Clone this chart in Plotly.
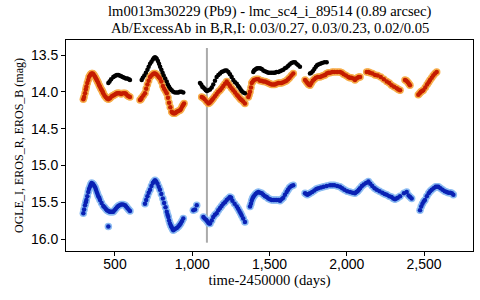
import plotly.graph_objects as go

# ---- data (time-2450000, magnitude) ----
ogle_i_t = [457, 465, 475, 489, 497, 505, 513, 521, 530, 540, 550, 560, 570, 580, 590, 597,
            673, 680, 690, 700, 710, 718, 727, 736, 745, 752, 759, 765, 770, 778, 785, 792, 800, 808, 815, 825, 835, 842, 850, 858, 867, 877, 888, 900, 910, 920, 930, 942,
            1050, 1058, 1065, 1072, 1080, 1088, 1095, 1105, 1115, 1126, 1136, 1147, 1158, 1169, 1180, 1190, 1201, 1212, 1223, 1234, 1244, 1255, 1266, 1277, 1288, 1297, 1305, 1313, 1320, 1330, 1341,
            1395, 1400, 1406, 1413, 1420, 1430, 1439, 1450, 1460, 1470, 1482, 1492, 1503, 1514, 1525, 1535, 1545, 1557, 1568, 1578, 1589, 1600, 1610, 1620, 1630, 1642, 1654, 1665, 1675, 1686, 1697,
            1762, 1771, 1780, 1790, 1800, 1808, 1816, 1828, 1840, 1855, 1870]
ogle_i_m = [13.88, 13.86, 13.83, 13.80, 13.79, 13.78, 13.77, 13.77, 13.78, 13.79, 13.80, 13.81, 13.82, 13.82, 13.83, 13.84,
            13.84, 13.81, 13.78, 13.74, 13.70, 13.66, 13.62, 13.59, 13.56, 13.54, 13.53, 13.54, 13.55, 13.58, 13.62, 13.66, 13.70, 13.74, 13.78, 13.82, 13.86, 13.90, 13.93, 13.96, 13.98, 14.00, 14.01, 14.01, 14.01, 14.00, 14.00, 14.01,
            13.88, 13.90, 13.93, 13.94, 13.96, 13.98, 13.99, 13.98, 13.97, 13.94, 13.90, 13.85, 13.80, 13.77, 13.75, 13.73, 13.72, 13.71, 13.71, 13.73, 13.76, 13.80, 13.84, 13.87, 13.89, 13.92, 13.94, 13.97, 13.99, 14.01, 14.02,
            13.73, 13.71, 13.70, 13.69, 13.68, 13.68, 13.68, 13.69, 13.71, 13.72, 13.73, 13.74, 13.74, 13.74, 13.74, 13.74, 13.73, 13.73, 13.72, 13.71, 13.70, 13.68, 13.67, 13.65, 13.63, 13.61, 13.60, 13.60, 13.62, 13.64, 13.66,
            13.75, 13.74, 13.72, 13.69, 13.66, 13.64, 13.63, 13.62, 13.61, 13.60, 13.60]

eros_r_t = [295, 300, 306, 311, 315, 321, 327, 332, 338, 343, 349, 355, 360, 366, 372, 377, 382, 387, 392, 398, 403, 409, 415, 420, 424, 432, 440, 448, 457, 464, 470, 480, 489, 497, 505, 513, 521, 530, 540, 552, 565, 572, 580, 588, 597,
            662, 668, 673, 684, 694, 702, 710, 718, 727, 736, 745, 752, 759, 767, 775, 783, 791, 800, 810, 818, 827, 835, 843, 850, 858, 867, 872, 877, 883, 888, 894, 900, 910, 921, 928, 935, 941, 947,
            1061, 1070, 1080, 1092, 1104, 1112, 1120, 1128, 1136, 1147, 1158, 1169, 1180, 1190, 1201, 1212, 1223, 1234, 1244, 1255, 1266, 1277, 1288, 1297, 1305, 1313, 1320, 1330, 1341,
            1363, 1368, 1374, 1380, 1385, 1392, 1400, 1414, 1428, 1439, 1450, 1460, 1471, 1482, 1492, 1503, 1514, 1525, 1535, 1545, 1557, 1568, 1578, 1589, 1600, 1610, 1620, 1630, 1642, 1654,
            1730, 1738, 1745, 1753, 1762, 1771, 1780, 1790, 1800, 1813, 1827, 1838, 1850, 1860, 1870, 1881, 1892, 1906, 1920, 1938, 1956, 1968, 1980, 1995, 2010, 2020, 2030, 2042, 2053, 2062, 2070, 2078, 2086,
            2129, 2140, 2150, 2166, 2183, 2200, 2220, 2240, 2259, 2275, 2290, 2306, 2323, 2334, 2345, 2377, 2386, 2395, 2402, 2409,
            2463, 2472, 2480, 2488, 2495, 2508, 2520, 2530, 2539, 2550, 2560, 2571, 2582]
eros_r_m = [14.10, 14.07, 14.02, 13.97, 13.93, 13.88, 13.84, 13.80, 13.78, 13.76, 13.75, 13.75, 13.76, 13.78, 13.80, 13.82, 13.84, 13.86, 13.88, 13.91, 13.93, 13.96, 13.98, 14.00, 14.02, 14.05, 14.07, 14.09, 14.10, 14.09, 14.08, 14.06, 14.05, 14.04, 14.03, 14.02, 14.02, 14.02, 14.03, 14.02, 14.02, 14.03, 14.05, 14.06, 14.07,
            14.11, 14.10, 14.08, 14.05, 14.02, 13.96, 13.90, 13.85, 13.80, 13.78, 13.76, 13.75, 13.75, 13.76, 13.78, 13.80, 13.82, 13.86, 13.92, 13.96, 13.99, 14.02, 14.08, 14.15, 14.21, 14.27, 14.28, 14.29, 14.29, 14.29, 14.28, 14.27, 14.26, 14.25, 14.23, 14.20, 14.18, 14.16,
            14.07, 14.08, 14.10, 14.13, 14.16, 14.15, 14.13, 14.11, 14.09, 14.06, 14.03, 14.00, 13.98, 13.95, 13.92, 13.89, 13.86, 13.89, 13.92, 13.95, 13.98, 14.01, 14.04, 14.06, 14.08, 14.10, 14.11, 14.13, 14.16,
            14.07, 14.04, 14.00, 13.94, 13.88, 13.86, 13.84, 13.83, 13.83, 13.85, 13.85, 13.86, 13.86, 13.87, 13.88, 13.89, 13.90, 13.90, 13.90, 13.89, 13.88, 13.88, 13.88, 13.87, 13.86, 13.85, 13.83, 13.81, 13.78, 13.75,
            13.84, 13.86, 13.88, 13.90, 13.91, 13.88, 13.85, 13.83, 13.81, 13.80, 13.80, 13.79, 13.78, 13.77, 13.75, 13.74, 13.74, 13.73, 13.73, 13.73, 13.73, 13.74, 13.76, 13.78, 13.80, 13.81, 13.81, 13.82, 13.84, 13.82, 13.81, 13.80, 13.80,
            13.73, 13.73, 13.74, 13.75, 13.77, 13.78, 13.80, 13.83, 13.86, 13.88, 13.91, 13.93, 13.95, 13.97, 13.98, 13.84, 13.85, 13.87, 13.89, 13.91,
            14.04, 14.02, 14.00, 13.99, 13.98, 13.94, 13.90, 13.87, 13.84, 13.81, 13.78, 13.75, 13.73]

eros_b_t = [295, 300, 306, 311, 315, 321, 327, 332, 338, 343, 349, 355, 360, 366, 372, 377, 382, 387, 392, 398, 403, 413, 424, 432, 440, 448, 457, 465, 473, 481, 489, 497, 505, 513, 521, 530, 540, 552, 565, 572, 580, 588, 597, 457,
            694, 702, 710, 718, 727, 736, 745, 752, 759, 767, 775, 783, 791, 800, 810, 818, 827, 835, 840, 845, 850, 856, 862, 867, 872, 877, 883, 890, 900, 910, 918, 925, 933, 942,
            1007, 1018, 1029, 1072, 1080, 1090, 1097, 1104, 1110, 1115, 1126, 1136, 1147, 1158, 1169, 1180, 1190, 1201, 1212, 1223, 1234, 1244, 1252, 1260, 1274, 1288, 1297, 1305, 1313, 1320, 1330, 1341,
            1374, 1380, 1385, 1390, 1395, 1402, 1410, 1419, 1428, 1439, 1450, 1460, 1471, 1482, 1492, 1503, 1514, 1525, 1535, 1545, 1557, 1568, 1578, 1589, 1600, 1611, 1620, 1630, 1642, 1654,
            1730, 1738, 1745, 1753, 1762, 1776, 1790, 1803, 1816, 1833, 1850, 1870, 1892, 1906, 1920, 1938, 1956, 1970, 1985, 2003, 2021, 2037, 2053, 2062, 2070, 2078, 2086, 2098, 2110, 2125, 2140, 2152, 2165, 2180, 2194,
            2212, 2230, 2245, 2259, 2275, 2290, 2301, 2312, 2321, 2330, 2345, 2370, 2388, 2400, 2410, 2420,
            2474, 2482, 2490, 2498, 2506, 2518, 2530, 2540, 2550, 2562, 2575, 2584, 2593, 2606, 2620, 2634, 2647, 2658, 2670, 2680, 2690]
eros_b_m = [15.65, 15.60, 15.54, 15.50, 15.47, 15.42, 15.36, 15.32, 15.29, 15.26, 15.24, 15.25, 15.26, 15.28, 15.30, 15.33, 15.36, 15.39, 15.42, 15.44, 15.47, 15.51, 15.55, 15.57, 15.59, 15.61, 15.62, 15.63, 15.63, 15.63, 15.63, 15.61, 15.59, 15.57, 15.55, 15.54, 15.53, 15.53, 15.54, 15.56, 15.58, 15.60, 15.62, 15.83,
            15.52, 15.47, 15.42, 15.37, 15.33, 15.28, 15.24, 15.22, 15.20, 15.22, 15.25, 15.29, 15.33, 15.39, 15.45, 15.51, 15.57, 15.63, 15.67, 15.70, 15.75, 15.79, 15.82, 15.84, 15.86, 15.88, 15.87, 15.86, 15.85, 15.83, 15.81, 15.79, 15.76, 15.72,
            15.61, 15.60, 15.54, 15.70, 15.72, 15.74, 15.76, 15.78, 15.79, 15.79, 15.75, 15.70, 15.67, 15.65, 15.61, 15.58, 15.55, 15.52, 15.50, 15.47, 15.45, 15.43, 15.44, 15.48, 15.52, 15.56, 15.59, 15.62, 15.65, 15.68, 15.72, 15.77,
            15.56, 15.52, 15.48, 15.45, 15.43, 15.41, 15.39, 15.37, 15.36, 15.37, 15.38, 15.40, 15.42, 15.43, 15.45, 15.46, 15.47, 15.47, 15.47, 15.47, 15.47, 15.48, 15.46, 15.44, 15.40, 15.36, 15.33, 15.30, 15.28, 15.27,
            15.38, 15.39, 15.40, 15.39, 15.38, 15.36, 15.34, 15.32, 15.31, 15.30, 15.29, 15.28, 15.27, 15.27, 15.27, 15.28, 15.29, 15.31, 15.33, 15.35, 15.36, 15.37, 15.38, 15.36, 15.35, 15.33, 15.31, 15.28, 15.26, 15.24, 15.22, 15.25, 15.28, 15.31, 15.33,
            15.35, 15.37, 15.39, 15.40, 15.42, 15.43, 15.45, 15.46, 15.45, 15.44, 15.42, 15.38, 15.36, 15.41, 15.43, 15.45,
            15.61, 15.56, 15.52, 15.49, 15.47, 15.42, 15.38, 15.35, 15.33, 15.31, 15.29, 15.29, 15.29, 15.31, 15.33, 15.35, 15.36, 15.37, 15.37, 15.38, 15.40]

event_time = 1095
event_mag_range = [13.405, 16.05]
x_ticks = [500, 1000, 1500, 2000, 2500]
y_ticks = [13.5, 14.0, 14.5, 15.0, 15.5, 16.0]
title_lines = ["lm0013m30229 (Pb9) - lmc_sc4_i_89514 (0.89 arcsec)",
               "Ab/ExcessAb in B,R,I: 0.03/0.27, 0.03/0.23, 0.02/0.05"]

SERIF = "Liberation Serif"
SANS = "Liberation Sans"

fig = go.Figure()
# halo layers (light), then core layers (dark)
fig.add_trace(go.Scatter(x=eros_b_t, y=eros_b_m, mode="markers",
                         marker=dict(size=7.5, color="#8cbcf2")))
fig.add_trace(go.Scatter(x=eros_r_t, y=eros_r_m, mode="markers",
                         marker=dict(size=7.5, color="#f6ac48")))
fig.add_trace(go.Scatter(x=eros_b_t, y=eros_b_m, mode="markers",
                         marker=dict(size=4.5, color="#0a22b4")))
fig.add_trace(go.Scatter(x=eros_r_t, y=eros_r_m, mode="markers",
                         marker=dict(size=4.5, color="#c41c00")))
fig.add_trace(go.Scatter(x=ogle_i_t, y=ogle_i_m, mode="markers",
                         marker=dict(size=4.5, color="black")))

fig.add_shape(type="line", xref="x", yref="y", x0=event_time, x1=event_time,
              y0=event_mag_range[0], y1=event_mag_range[1],
              line=dict(color="#aaaaaa", width=2), layer="below")

for i, line in enumerate(title_lines):
    fig.add_annotation(text=line, xref="paper", yref="paper", x=0.5, xanchor="center",
                       y=1 + (28 - 16 * i) / 211, yanchor="middle", showarrow=False,
                       font=dict(family=SERIF, size=14.6, color="black"))

fig.update_layout(
    width=480, height=300,
    margin=dict(l=66, r=7, t=40, b=49),
    paper_bgcolor="white", plot_bgcolor="white",
    showlegend=False,
    font=dict(family=SERIF, size=14.6, color="black"),
)
fig.update_xaxes(range=[183, 2817], tickvals=x_ticks, tickformat=",d", automargin=False,
                 showline=True, linecolor="black", linewidth=1, mirror=True,
                 ticks="outside", ticklen=4, tickcolor="black", showgrid=False, zeroline=False,
                 ticklabelstandoff=-4,
                 title=dict(text="time-2450000 (days)", font=dict(family=SERIF, size=14.6), standoff=3),
                 tickfont=dict(family=SANS, size=14))
fig.update_yaxes(range=[16.163, 13.296], tickvals=y_ticks, tickformat=".1f", automargin=False,
                 showline=True, linecolor="black", linewidth=1, mirror=True,
                 ticks="outside", ticklen=4, tickcolor="black", showgrid=False, zeroline=False,
                 title=dict(text="OGLE_I, EROS_R, EROS_B (mag)", font=dict(family=SERIF, size=12), standoff=4),
                 tickfont=dict(family=SANS, size=14))

fig.write_html("out.html", post_script="document.body.style.margin='0';",
               config={"displayModeBar": False})
